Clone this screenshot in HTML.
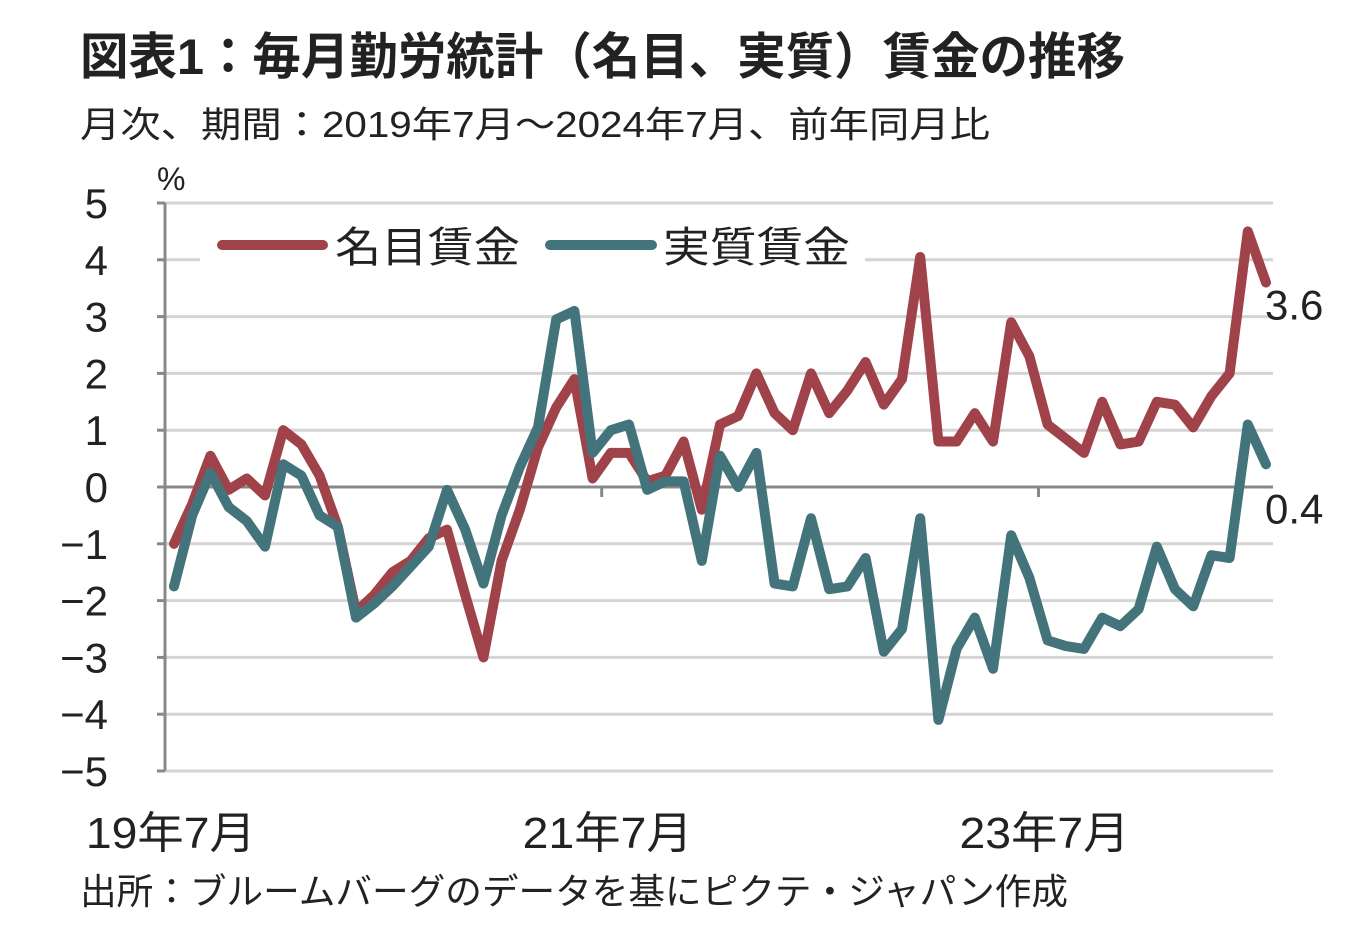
<!DOCTYPE html>
<html><head><meta charset="utf-8"><style>
body{margin:0;background:#fff;}
svg text{font-family:"Liberation Sans","Noto Sans CJK JP",sans-serif;fill:#222;}
</style></head><body>
<svg width="1363" height="928" viewBox="0 0 1363 928" xmlns="http://www.w3.org/2000/svg">
<text x="80" y="74" font-size="50" font-weight="bold" fill="#333" textLength="1045" lengthAdjust="spacingAndGlyphs">図表1：毎月勤労統計（名目、実質）賃金の推移</text>
<text x="80" y="137" font-size="36" fill="#444" textLength="910" lengthAdjust="spacingAndGlyphs">月次、期間：2019年7月～2024年7月、前年同月比</text>
<text x="157" y="190" font-size="32">%</text>
<g id="grid"></g>
<g id="axes"></g>
<g id="series"></g>
<rect x="200" y="215" width="665" height="62" fill="#fff"/>
<line x1="222" y1="245" x2="323" y2="245" stroke="#A0424A" stroke-width="10" stroke-linecap="round"/>
<text x="335" y="262" font-size="42" textLength="185" lengthAdjust="spacingAndGlyphs">名目賃金</text>
<line x1="550" y1="245" x2="652" y2="245" stroke="#44747B" stroke-width="10" stroke-linecap="round"/>
<text x="663" y="262" font-size="42" textLength="187" lengthAdjust="spacingAndGlyphs">実質賃金</text>
<text x="80" y="904" font-size="36" fill="#333" textLength="988" lengthAdjust="spacingAndGlyphs">出所：ブルームバーグのデータを基にピクテ・ジャパン作成</text>
</svg>
<script>
const yTicks=[5,4,3,2,1,0,-1,-2,-3,-4,-5];
const xTickLabels=["19年7月","21年7月","23年7月"];
const xTickIdx=[0,24,48];
const nominal=[-1.0,-0.3,0.55,-0.05,0.15,-0.15,1.0,0.75,0.2,-0.7,-2.2,-1.9,-1.5,-1.3,-0.9,-0.75,-1.9,-3.0,-1.3,-0.4,0.7,1.4,1.9,0.15,0.6,0.6,0.1,0.2,0.8,-0.4,1.1,1.25,2.0,1.3,1.0,2.0,1.3,1.7,2.2,1.45,1.9,4.05,0.8,0.8,1.3,0.8,2.9,2.3,1.1,0.85,0.6,1.5,0.75,0.8,1.5,1.45,1.05,1.6,2.0,4.5,3.6];
const real=[-1.75,-0.5,0.25,-0.35,-0.6,-1.05,0.4,0.2,-0.5,-0.7,-2.3,-2.05,-1.75,-1.4,-1.05,-0.05,-0.75,-1.7,-0.5,0.35,1.05,2.95,3.1,0.6,1.0,1.1,-0.05,0.1,0.1,-1.3,0.55,0.0,0.6,-1.7,-1.75,-0.55,-1.8,-1.75,-1.25,-2.9,-2.5,-0.55,-4.1,-2.85,-2.3,-3.2,-0.85,-1.6,-2.7,-2.8,-2.85,-2.3,-2.45,-2.15,-1.05,-1.8,-2.1,-1.2,-1.25,1.1,0.4];
const NS="http://www.w3.org/2000/svg";
const y=v=>487-v*56.8;
const x=i=>174+i*18.2;
function mk(tag,attrs,parent){const e=document.createElementNS(NS,tag);for(const k in attrs)e.setAttribute(k,attrs[k]);parent.appendChild(e);return e;}
const grid=document.getElementById('grid'),axes=document.getElementById('axes'),ser=document.getElementById('series');
yTicks.forEach(v=>{
  if(v!==0){const g=mk('line',{x1:165,x2:1273,y1:y(v),y2:y(v),stroke:'#d4d4d4','stroke-width':3},grid);
  
  }
  const t=mk('line',{x1:157,x2:165,y1:y(v),y2:y(v),stroke:'#888','stroke-width':3},axes);
  
  
  const l=mk('text',{x:108,y:y(v)+15,'font-size':42,'text-anchor':'end'},axes);
  
  
  l.textContent=(v<0?'−'+(-v):String(v));
});
const z=mk('line',{x1:165,x2:1273,y1:y(0),y2:y(0),stroke:'#888','stroke-width':3},axes);


const ya=mk('line',{x1:165,x2:165,y1:y(5),y2:y(-5),stroke:'#888','stroke-width':3},axes);


xTickIdx.forEach((ix,k)=>{
  const px=x(ix-0.5);
  if(k>0){const t=mk('line',{x1:px,x2:px,y1:y(0),y2:y(0)+10,stroke:'#888','stroke-width':3},axes);
  
  }
  const l=mk('text',{x:px-79,y:848,'font-size':44,textLength:170,lengthAdjust:'spacingAndGlyphs'},axes);
  
  
  l.textContent=xTickLabels[k];
});
function line(data,color,name){
  const p=mk('polyline',{points:data.map((v,i)=>x(i)+','+y(v)).join(' '),fill:'none',stroke:color,'stroke-width':10,'stroke-linejoin':'round','stroke-linecap':'round'},ser);
  
  
}
line(nominal,'#A0424A','nominal-wage-line');
line(real,'#44747B','real-wage-line');
const n=nominal.length-1;
const e1=mk('text',{x:1265,y:y(nominal[n])+37,'font-size':42},ser);


e1.textContent=nominal[n].toFixed(1);
const e2=mk('text',{x:1265,y:y(real[n])+59,'font-size':42},ser);


e2.textContent=real[n].toFixed(1);
</script>
</body></html>
